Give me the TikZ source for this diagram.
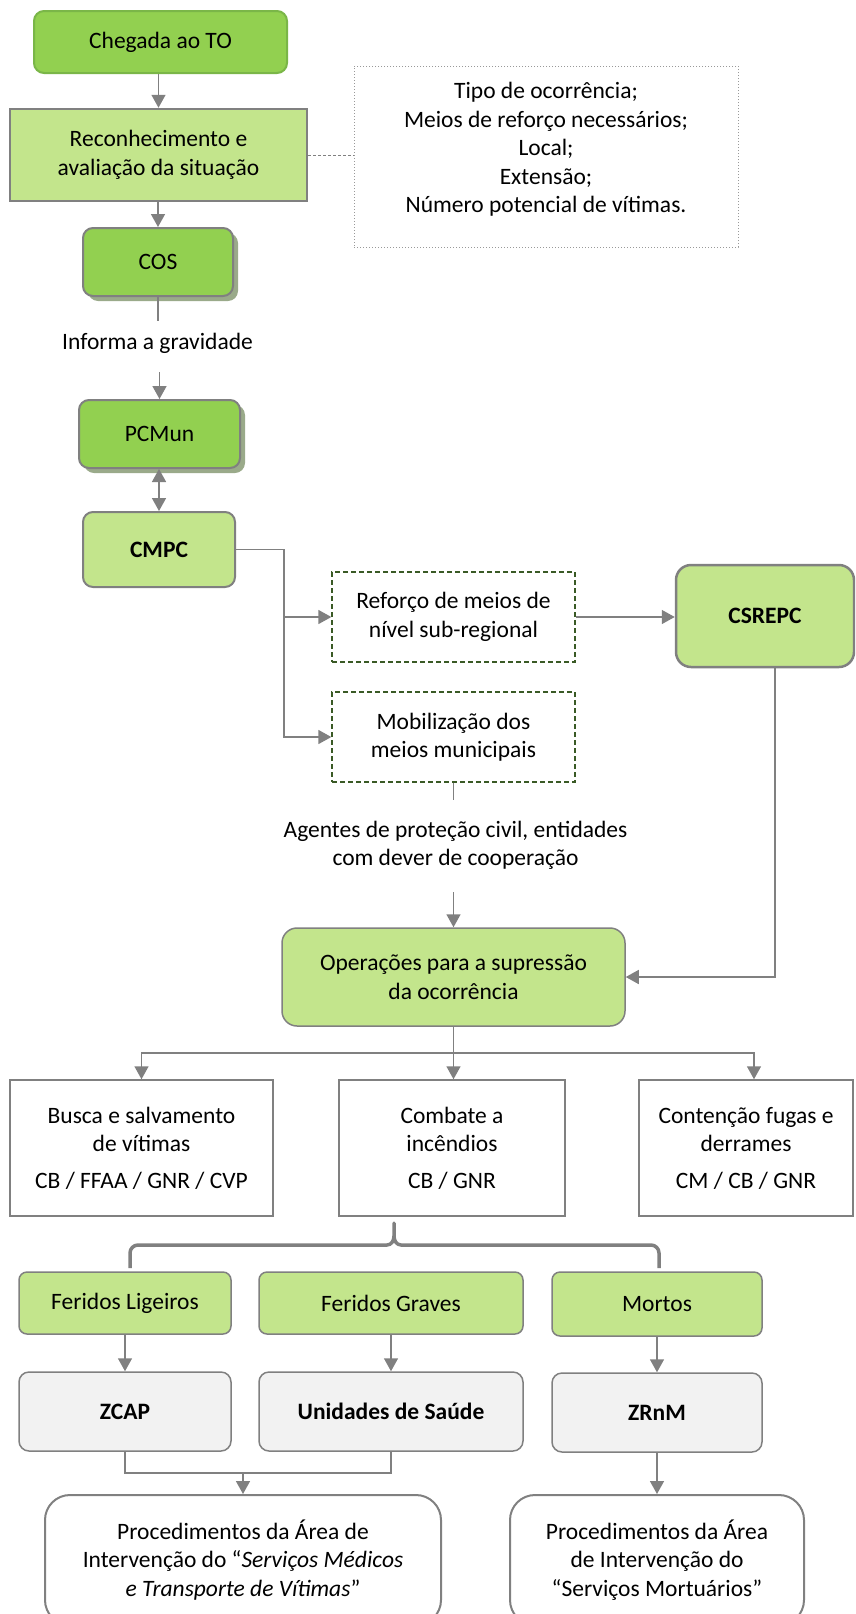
\documentclass[tikz,border=0pt]{standalone}
\usepackage{fontspec}
\setmainfont{Carlito}
\usetikzlibrary{arrows.meta,shadows}
\definecolor{dgreen}{HTML}{92D050}
\definecolor{lgreen}{HTML}{C3E58C}
\definecolor{gborder}{HTML}{7AB648}
\definecolor{lgray}{HTML}{808080}
\definecolor{shadowc}{HTML}{9AAA8A}
\definecolor{dashgreen}{HTML}{3A5A25}
\definecolor{boxgray}{HTML}{F2F2F2}
\definecolor{dotgray}{HTML}{999999}
\tikzset{
 txt/.style={font=\fontsize{23.5}{28.5}\selectfont, align=center, inner sep=0pt, text=black},
 dkbox/.style={txt, rounded corners=10pt, fill=dgreen, draw=gborder, line width=2pt},
 recbox/.style={txt, fill=lgreen, draw=lgray, line width=2.5pt},
 shbox/.style={txt, rounded corners=10pt, fill=dgreen, draw=lgray, line width=2pt, drop shadow={shadow xshift=5pt, shadow yshift=-5pt, fill=shadowc, opacity=1}},
 lgbox/.style={txt, rounded corners=10pt, fill=lgreen, draw=lgray, line width=2pt},
 infobox/.style={txt, draw=dotgray, dotted, line width=1pt},
 dashbox/.style={txt, draw=dashgreen, dash pattern=on 5pt off 3pt, line width=1.3pt},
 wbox/.style={txt, draw=lgray, line width=1.5pt, fill=white},
 fbox/.style={txt, rounded corners=8pt, fill=lgreen, draw=lgray, line width=1.5pt},
 gbox/.style={txt, rounded corners=10pt, fill=boxgray, draw=lgray, line width=1.5pt},
 pbox/.style={txt, rounded corners=25pt, fill=white, draw=lgray, line width=2pt},
 conn/.style={draw=lgray, line width=1.5pt},
 arr/.style={conn, -{Triangle[length=13pt,width=14pt]}},
 darr/.style={conn, {Triangle[length=13pt,width=14pt]}-{Triangle[length=13pt,width=14pt]}},
 lnk/.style={draw=lgray, line width=1pt, dash pattern=on 3pt off 2pt},
 bracestyle/.style={draw=lgray, line width=3.5pt, line join=round},
}
\begin{document}
\begin{tikzpicture}[x=1pt,y=-1pt]
\useasboundingbox (0,0) rectangle (855,1614);
\clip (0,0) rectangle (855,1614);

% top column
\node[dkbox, minimum width=253pt, minimum height=62pt] (chegada) at (160.5,42) {Chegada ao TO};
\node[recbox, minimum width=297pt, minimum height=92pt] (recon) at (158.5,155) {Reconhecimento e\\avaliação da situação};
\node[infobox, minimum width=384pt, minimum height=181pt,
  label={[txt, yshift=7pt]center:{Tipo de ocorrência;\\Meios de reforço necessários;\\Local;\\Extensão;\\Número potencial de vítimas.}}] (info) at (546,156.5) {};
\node[shbox, minimum width=150pt, minimum height=68pt] (cos) at (158,262) {COS};
\node[txt] (grav) at (157.5,343) {Informa a gravidade};
\node[shbox, minimum width=161pt, minimum height=68pt] (pcmun) at (159.5,434) {PCMun};
\node[lgbox, minimum width=152pt, minimum height=75pt] (cmpc) at (159,549.5) {\textbf{CMPC}};

% middle
\node[dashbox, minimum width=243pt, minimum height=90pt] (reforco) at (453.5,617) {Reforço de meios de\\nível sub-regional};
\node[dashbox, minimum width=243pt, minimum height=90pt] (mobiliz) at (453.5,737) {Mobilização dos\\meios municipais};
\node[lgbox, rounded corners=15pt, line width=2.5pt, minimum width=178pt, minimum height=102pt] (csrepc) at (765,616) {\textbf{CSREPC}};
\node[txt] (agentes) at (455.5,845.5) {Agentes de proteção civil, entidades\\com dever de cooperação};
\node[lgbox, rounded corners=15pt, line width=1.5pt, minimum width=343pt, minimum height=98pt] (oper) at (453.5,977) {Operações para a supressão\\da ocorrência};

% operations
\node[wbox, minimum width=263pt, minimum height=136pt] (busca) at (141.5,1148) {Busca e salvamento\\de vítimas\\[8pt]CB / FFAA / GNR / CVP};
\node[wbox, minimum width=226pt, minimum height=136pt] (combate) at (452,1148) {Combate a\\incêndios\\[8pt]CB / GNR};
\node[wbox, minimum width=214pt, minimum height=136pt] (contencao) at (746,1148) {Contenção fugas e\\derrames\\[8pt]CM / CB / GNR};

% victims
\node[fbox, minimum width=212pt, minimum height=62pt] (fl) at (125,1303) {Feridos Ligeiros};
\node[fbox, minimum width=264pt, minimum height=62pt] (fg) at (391,1303) {Feridos Graves};
\node[fbox, minimum width=210pt, minimum height=64pt] (mo) at (657,1304) {Mortos};
\node[gbox, minimum width=212pt, minimum height=79pt] (zcap) at (125,1411.5) {\textbf{ZCAP}};
\node[gbox, minimum width=264pt, minimum height=79pt] (uni) at (391,1411.5) {\textbf{Unidades de Saúde}};
\node[gbox, minimum width=210pt, minimum height=79pt] (zrnm) at (657,1412.5) {\textbf{ZRnM}};
\node[pbox, minimum width=396pt, minimum height=130pt] (proc1) at (243,1560) {Procedimentos da Área de\\Intervenção do “\textit{Serviços Médicos}\\\textit{e Transporte de Vítimas}”};
\node[pbox, minimum width=294pt, minimum height=130pt] (proc2) at (657,1560) {Procedimentos da Área\\de Intervenção do\\“Serviços Mortuários”};

% connectors
\draw[arr] (chegada.south -| recon.north) -- (recon.north);
\draw[arr] (recon.south -| cos.north) -- (cos.north);
\draw[lnk] (recon.east) -- (recon.east -| info.west);
\coordinate (g1) at (158,321);
\coordinate (g2) at (159.5,372);
\draw[conn] (cos.south) -- (g1);
\draw[arr] (g2) -- (pcmun.north);
\draw[darr] (pcmun.south -| cmpc.north) -- (cmpc.north);
\coordinate (br) at (284,549.5);
\draw[arr] (cmpc.east) -- (br) |- (reforco.west);
\draw[arr] (br) |- (mobiliz.west);
\draw[arr] (reforco.east) -- (reforco.east -| csrepc.west);
\coordinate (a1) at (453.5,800);
\coordinate (a2) at (453.5,892);
\draw[conn] (mobiliz.south) -- (a1);
\draw[arr] (a2) -- (oper.north);
\draw[arr] ([xshift=10pt]csrepc.south) |- (oper.east);
\coordinate (hb) at (453.5,1053);
\draw[conn] (oper.south) -- (hb);
\draw[arr] (hb) -| (busca.north);
\draw[arr] (hb) -| ([xshift=8pt]contencao.north);
\draw[arr] (hb) -- (hb |- combate.north);

% brace
\coordinate (bl) at (130,1268);
\coordinate (bp) at (394,1223);
\coordinate (bri) at (659,1268);
\draw[bracestyle] (bl) -- (130,1253) to[out=90,in=180] (138,1245) -- (387,1245) to[out=0,in=-90] (394,1236) -- (bp) -- (394,1236) to[out=-90,in=180] (401,1245) -- (651,1245) to[out=0,in=90] (bri |- 0,1253) -- (bri);

\draw[arr] (fl.south) -- (zcap.north);
\draw[arr] (fg.south) -- (uni.north);
\draw[arr] (mo.south) -- (zrnm.north);
\coordinate (jn) at (243,1473);
\draw[conn] (zcap.south) |- (uni.south |- jn) -- (uni.south);
\draw[arr] (jn) -- (proc1.north);
\draw[arr] (zrnm.south) -- (zrnm.south |- proc2.north);
\end{tikzpicture}
\end{document}
